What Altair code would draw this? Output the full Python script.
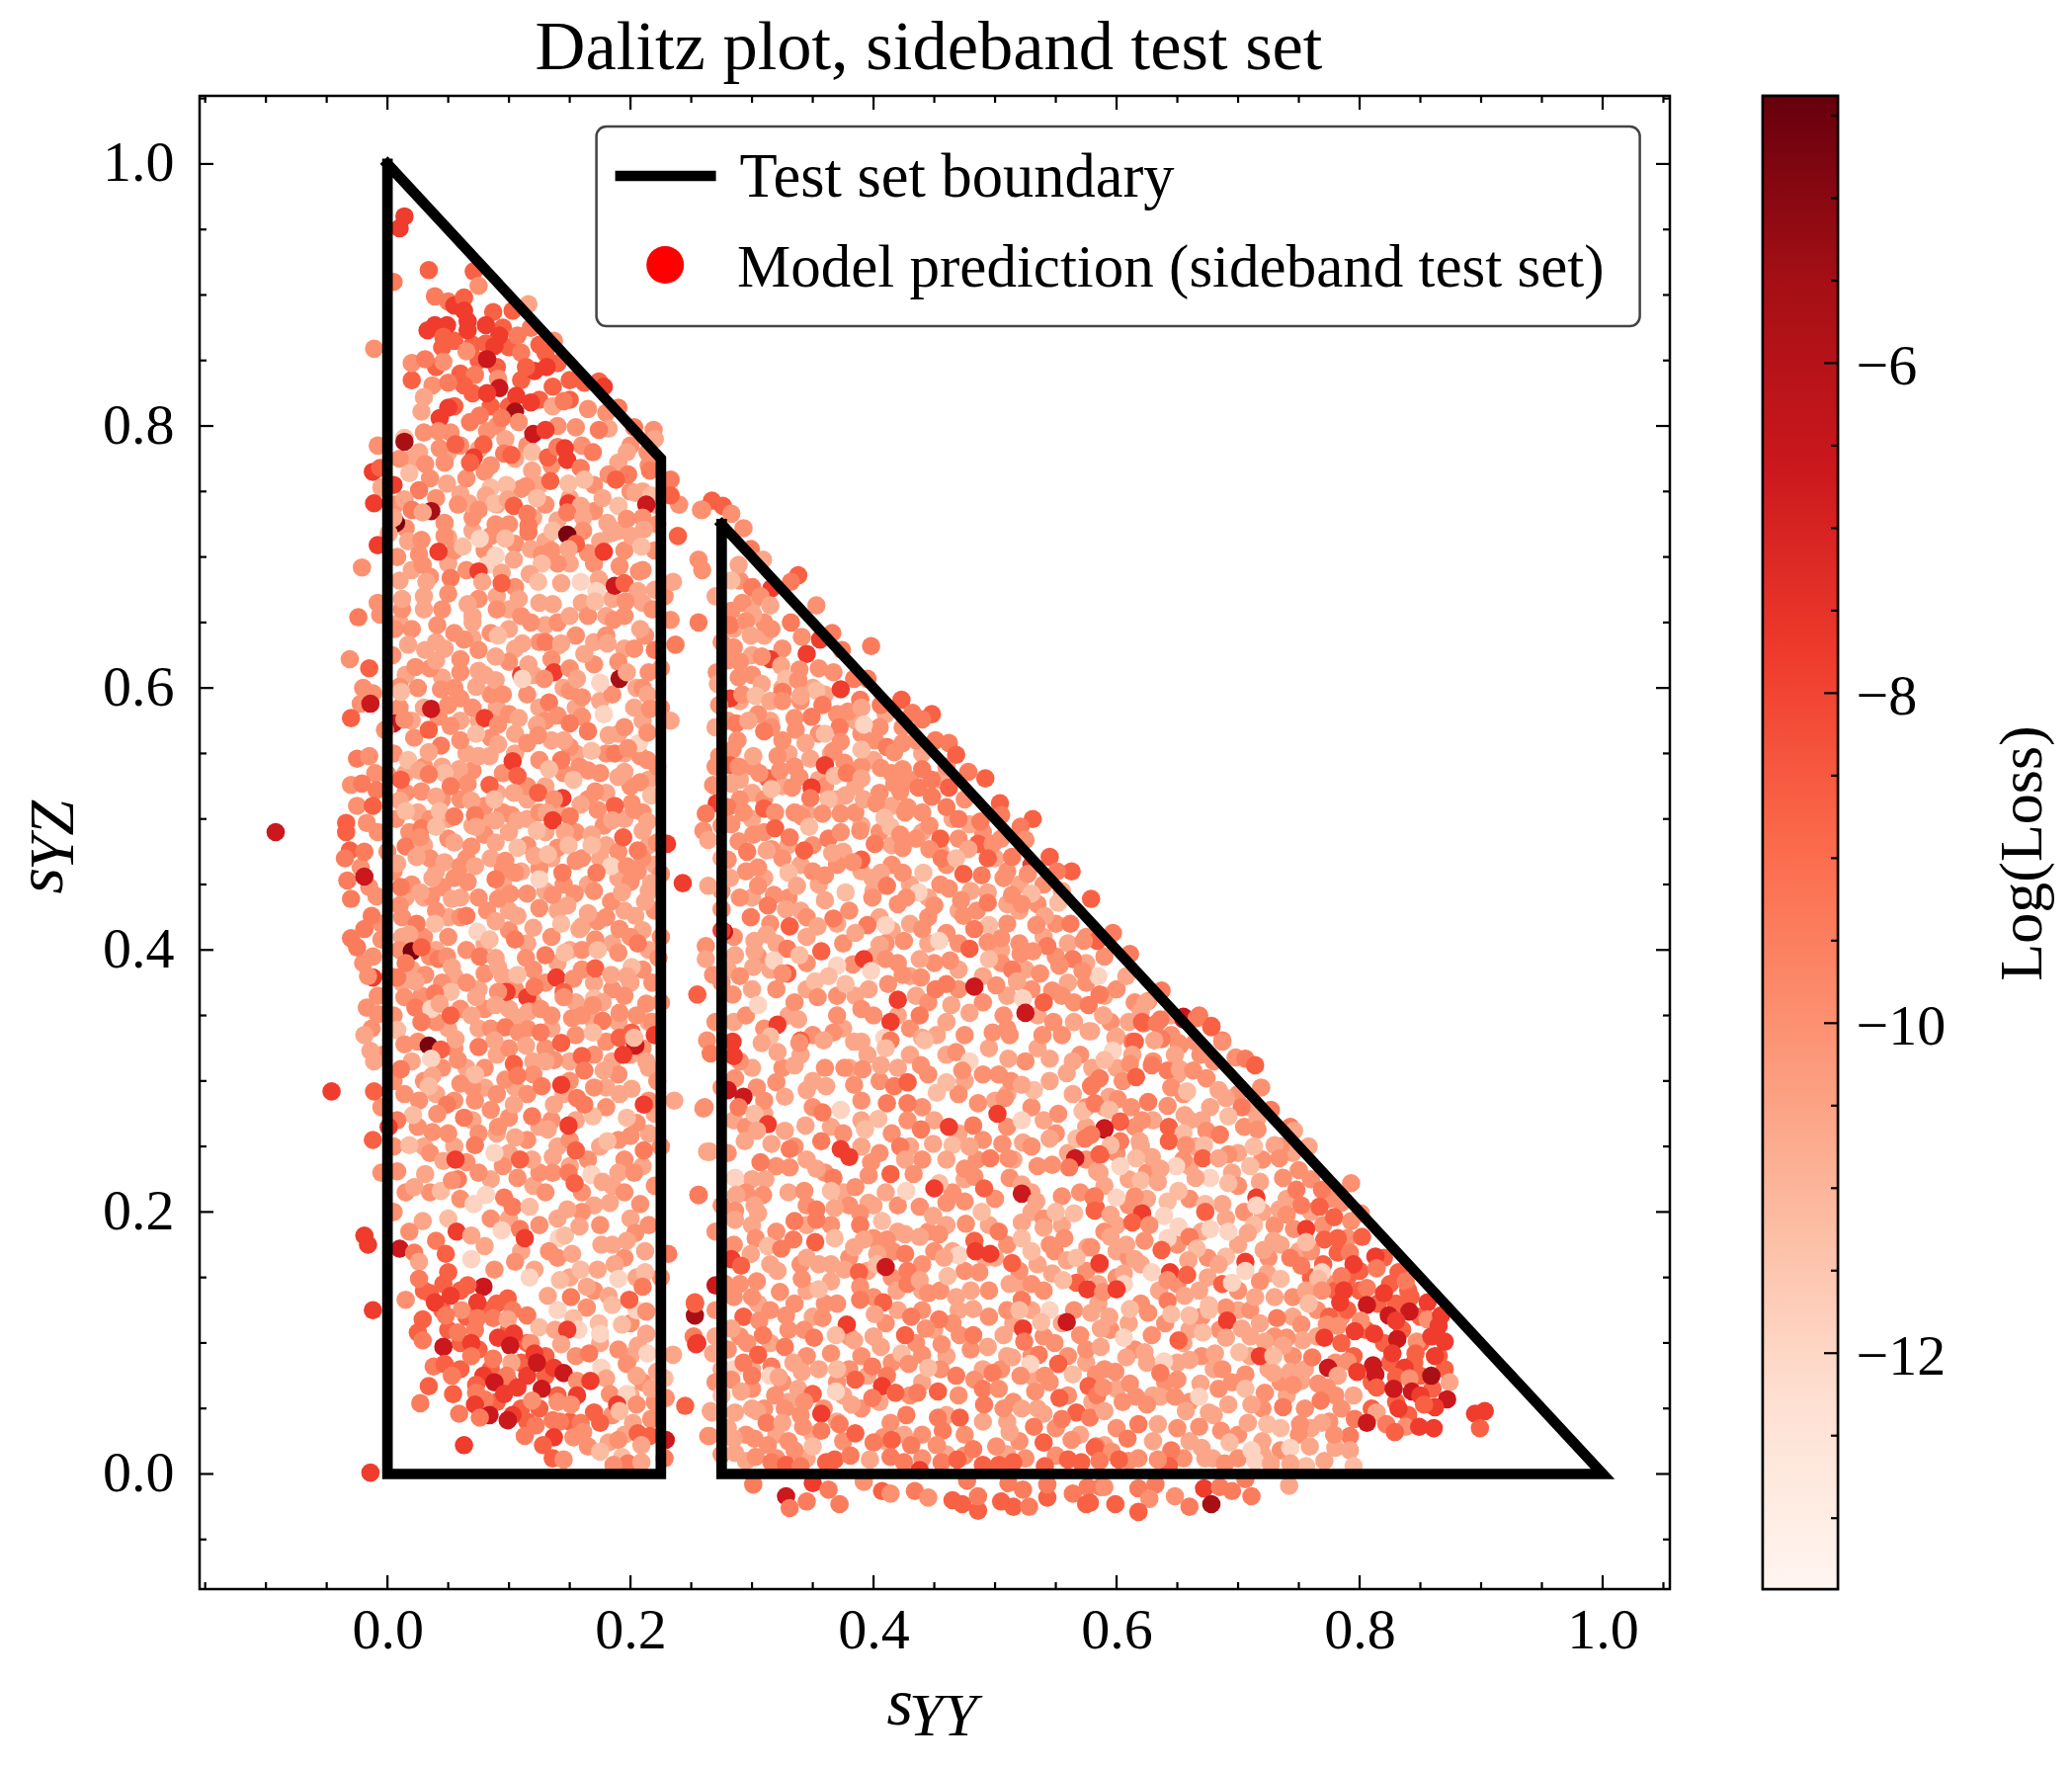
import pandas as pd
import altair as alt

W, H = 1488, 1511
CW = 76
SERIF = "Liberation Serif"

x_major = [0.0, 0.2, 0.4, 0.6, 0.8, 1.0]
x_minor = [-0.15, -0.10, -0.05, 0.05, 0.10, 0.15, 0.25, 0.30, 0.35, 0.45, 0.50, 0.55, 0.65, 0.70, 0.75, 0.85, 0.90, 0.95, 1.05]
y_major = [0.0, 0.2, 0.4, 0.6, 0.8, 1.0]
y_minor = [-0.05, 0.05, 0.10, 0.15, 0.25, 0.30, 0.35, 0.45, 0.50, 0.55, 0.65, 0.70, 0.75, 0.85, 0.90, 0.95, 1.05]
cbar_major = [-12, -10, -8, -6]
cbar_minor = [-13, -12.5, -11.5, -11, -10.5, -9.5, -9, -8.5, -7.5, -7, -6.5, -5.5, -5, -4.5]
cbar_domain = [-13.43, -4.38]
reds = ["#fff5f0", "#fee0d2", "#fcbba1", "#fc9272", "#fb6a4a", "#ef3b2c", "#cb181d", "#a50f15", "#67000d"]

boundary_left_x = [0.0, 0.0, 0.225, 0.225, 0.0]
boundary_left_y = [1.0, 0.0, 0.0, 0.775, 1.0]
boundary_right_x = [0.275, 0.275, 1.0, 0.275]
boundary_right_y = [0.725, 0.0, 0.0, 0.725]

# log loss bands, the third value of each point below is an index into this
loss_levels = [0, -11.9, -11.2, -10.6, -10.0, -9.4, -8.7, -7.8, -6.6, -5.6, -4.7]

# points under the others, estimated from the dense mass of the picture: (s_YY, s_YZ)
under_hot = [
(.055,.865),(.075,.85),(.1,.86),(.125,.862),(.09,.845),(.11,.835),(.14,.848),(.15,.835),(.1,.815),(.125,.82),(.07,.825),(.04,.845),(.055,.815),(.085,.815),(.02,.835),(.045,.86),(.07,.862),(.095,.875),(.15,.82),
(.05,.11),(.06,.1),(.075,.095),(.085,.08),(.06,.08),(.1,.07),(.11,.085),(.13,.075),(.09,.055),(.11,.05),(.125,.05),(.06,.14),(.08,.125),(.09,.13),(.03,.14),(.045,.125),(.065,.12),(.14,.06),(.15,.04),(.115,.04),(.1,.11),(.115,.1),(.13,.09),
(.8,.14),(.815,.13),(.825,.145),(.84,.14),(.85,.12),(.79,.125),(.805,.11),(.82,.1),(.835,.11),(.85,.1),(.845,.085),(.825,.085),(.81,.07),(.83,.055),(.85,.075),(.86,.065),(.795,.09),(.78,.14),(.775,.12),(.785,.1),(.8,.155),(.82,.165),(.83,.13),(.865,.09),(.87,.08),(.81,.05),(.84,.045),(.79,.15),(.77,.16),(.76,.15),
]
under_mid = [
(.03,.795),(.06,.785),(.09,.8),(.115,.785),(.14,.8),(.16,.785),(.18,.81),(.2,.785),(.215,.77),(.01,.775),(.035,.76),(.065,.76),(.08,.765),(.11,.752),(.135,.77),(.17,.755),(.2,.75),(.006,.74),(.04,.745),(.07,.73),(.1,.725),(.13,.74),(.17,.735),(.222,.725),(.24,.74),
(.015,.722),(.055,.705),(.08,.705),(.105,.71),(.135,.705),(.165,.703),(.195,.705),(.22,.705),(.008,.7),(.035,.685),(.065,.69),(.105,.677),(.14,.695),(.17,.695),(.21,.69),(.012,.66),(.045,.66),(.075,.668),(.11,.655),(.14,.65),(.165,.655),(.195,.655),(.228,.67),(-.008,.665),
(.02,.645),(.055,.642),(.085,.642),(.125,.635),(.155,.64),(.18,.64),(.212,.64),(.004,.625),(.035,.615),(.06,.622),(.1,.62),(.135,.622),(.17,.618),(.19,.62),(.215,.612),(.025,.6),(.055,.6),(.085,.595),(.115,.595),(.15,.598),(.185,.595),(.21,.6),(-.02,.6),(.01,.585),(.042,.578),(.07,.585),(.1,.58),(.13,.575),(.16,.578),(.195,.57),(.225,.585),
(.022,.562),(.06,.56),(.085,.562),(.115,.558),(.15,.555),(.18,.55),(.208,.548),(.005,.55),(.03,.54),(.07,.537),(.095,.535),(.125,.545),(.175,.535),(.222,.54),(-.01,.535),(.015,.52),(.045,.515),(.08,.51),(.115,.525),(.145,.535),(.165,.515),(.2,.525),(.007,.5),(.035,.5),(.06,.515),(.095,.505),(.125,.505),(.155,.49),(.178,.495),(.21,.505),(-.025,.51),
(.018,.49),(.05,.485),(.08,.488),(.115,.48),(.14,.478),(.19,.475),(.222,.482),(-.008,.49),(.035,.47),(.065,.47),(.095,.462),(.125,.462),(.16,.47),(.21,.47),(-.022,.463),(.005,.46),(.02,.45),(.045,.448),(.075,.44),(.115,.443),(.145,.45),(.17,.445),(.2,.452),(.225,.458),(-.015,.448),(.012,.425),(.04,.43),(.06,.425),(.082,.43),(.125,.432),(.18,.425),(.22,.43),
(-.005,.42),(.03,.41),(.05,.41),(.1,.415),(.135,.41),(.16,.4),(.2,.41),(.225,.41),(-.02,.39),(.01,.4),(.035,.395),(.065,.4),(.08,.382),(.12,.385),(.16,.385),(.19,.398),(.218,.375),(.002,.38),(.045,.375),(.065,.375),(.105,.37),(.13,.375),(.185,.37),(.21,.385),(-.008,.365),(.028,.365),(.06,.355),(.08,.355),(.135,.35),(.16,.35),(.205,.35),(.225,.36),
(.005,.35),(.04,.345),(.085,.34),(.115,.34),(.155,.335),(.18,.33),(.218,.345),(-.013,.34),(.025,.33),(.055,.325),(.1,.325),(.13,.325),(.17,.32),(.21,.325),(-.004,.32),(.045,.31),(.08,.31),(.12,.305),(.15,.3),(.19,.305),(.222,.3),(.005,.3),(.03,.3),(.07,.295),(.09,.29),(.115,.29),(.17,.295),(.215,.285),(-.005,.28),(.055,.285),(.1,.272),(.135,.27),(.18,.28),(.205,.268),
(.025,.265),(.05,.26),(.075,.26),(.115,.255),(.15,.255),(.19,.255),(.225,.25),(.005,.25),(.035,.245),(.065,.238),(.095,.235),(.125,.23),(.165,.24),(.195,.24),(.015,.215),(.035,.215),(.06,.21),(.13,.215),(.16,.215),(.195,.215),(.22,.22),(.005,.2),(.085,.195),(.125,.19),(.16,.2),(.215,.19),(.14,.165),(.175,.19),(.195,.165),(.225,.15),(.17,.14),(.2,.115),(.19,.095),(.155,.09),(.21,.07),(.185,.045),(.22,.055),
(.29,.682),(.31,.65),(.275,.635),(.325,.63),(.355,.615),(.29,.62),(.34,.59),(.3,.61),(.28,.575),(.37,.58),(.405,.57),(.305,.58),(.325,.56),(.355,.565),(.39,.565),(.435,.56),(.3,.54),(.335,.54),(.39,.54),(.415,.535),(.46,.54),(.27,.54),(.31,.515),(.36,.525),(.405,.52),(.43,.53),(.475,.515),(.29,.515),(.335,.505),(.385,.505),(.44,.505),(.49,.49),(.505,.485),
(.275,.495),(.31,.49),(.35,.48),(.405,.49),(.435,.485),(.47,.485),(.295,.46),(.325,.47),(.37,.465),(.415,.465),(.46,.465),(.51,.46),(.54,.45),(.275,.445),(.33,.44),(.38,.43),(.42,.435),(.455,.45),(.485,.43),(.535,.435),(.29,.44),(.345,.425),(.41,.405),(.445,.425),(.51,.42),(.55,.42),(.575,.41),(.315,.42),(.285,.41),(.375,.405),(.47,.405),(.52,.405),(.55,.395),(.59,.395),
(.305,.395),(.345,.39),(.42,.39),(.45,.39),(.505,.39),(.575,.375),(.6,.37),(.275,.375),(.32,.37),(.37,.365),(.4,.35),(.47,.37),(.53,.37),(.565,.36),(.615,.36),(.295,.35),(.335,.36),(.39,.355),(.445,.36),(.49,.36),(.51,.34),(.595,.345),(.645,.335),(.27,.345),(.31,.34),(.35,.335),(.43,.34),(.475,.335),(.555,.335),(.63,.315),(.665,.33),
(.29,.315),(.325,.31),(.36,.31),(.405,.3),(.445,.305),(.49,.305),(.525,.315),(.57,.32),(.605,.3),(.655,.29),(.68,.315),(.275,.295),(.31,.285),(.35,.28),(.39,.285),(.44,.28),(.47,.29),(.53,.28),(.575,.28),(.615,.265),(.7,.29),(.295,.265),(.335,.25),(.375,.26),(.415,.26),(.49,.255),(.51,.265),(.55,.26),(.6,.245),(.655,.24),(.705,.265),(.735,.25),
(.28,.245),(.32,.235),(.36,.23),(.405,.245),(.44,.24),(.485,.24),(.535,.235),(.575,.24),(.625,.23),(.72,.24),(.76,.225),(.295,.215),(.345,.205),(.38,.205),(.42,.205),(.465,.215),(.5,.21),(.54,.195),(.57,.215),(.61,.205),(.66,.21),(.705,.2),(.775,.21),(.275,.205),(.32,.185),(.365,.19),(.4,.18),(.445,.185),(.51,.175),(.545,.175),(.59,.185),(.65,.175),(.73,.19),(.77,.19),(.79,.18),
(.285,.175),(.34,.16),(.38,.165),(.44,.16),(.475,.155),(.52,.155),(.575,.155),(.61,.165),(.675,.165),(.725,.165),(.76,.17),(.3,.135),(.335,.13),(.415,.15),(.455,.14),(.495,.14),(.54,.14),(.6,.15),(.65,.145),(.7,.14),(.745,.135),(.775,.145),(.27,.125),(.315,.125),(.36,.13),(.4,.135),(.44,.125),(.51,.125),(.565,.125),(.62,.13),(.67,.12),(.71,.125),(.765,.125),
(.29,.105),(.33,.11),(.38,.105),(.41,.115),(.465,.115),(.54,.105),(.595,.11),(.64,.115),(.685,.11),(.73,.105),(.785,.12),(.28,.095),(.345,.09),(.39,.09),(.435,.1),(.48,.095),(.53,.09),(.56,.09),(.615,.095),(.67,.09),(.745,.09),(.78,.085),(.3,.065),(.325,.07),(.37,.07),(.415,.085),(.455,.08),(.505,.08),(.545,.07),(.59,.08),(.64,.07),(.695,.07),(.735,.07),(.78,.06),
(.27,.07),(.31,.05),(.34,.045),(.39,.05),(.43,.06),(.47,.06),(.515,.055),(.56,.06),(.605,.055),(.66,.055),(.72,.05),(.755,.05),(.785,.05),(.295,.03),(.33,.025),(.375,.025),(.44,.03),(.475,.03),(.52,.025),(.55,.035),(.6,.035),(.65,.035),(.7,.03),(.75,.03),(.775,.04),(.275,.015),(.32,.012),(.44,.012),(.475,.014),(.525,.012),(.55,.014),(.61,.01),(.655,.012),(.7,.012),(.735,.018),
]
under_light = [
(.02,.775),(.05,.78),(.075,.782),(.105,.775),(.125,.755),(.15,.745),(.19,.772),(.21,.75),(.06,.748),(.09,.74),(.12,.73),(.14,.728),(.19,.72),(.22,.74),(.05,.715),(.07,.72),(.13,.712),(.15,.695),(.175,.712),(.02,.69),(.05,.695),(.09,.67),(.125,.665),(.16,.665),(.185,.668),(.22,.675),(.03,.67),(.07,.655),(.1,.66),(.13,.648),(.18,.655),(.21,.665),
(.01,.65),(.04,.635),(.07,.638),(.105,.63),(.14,.632),(.17,.635),(.195,.63),(.015,.61),(.045,.608),(.08,.61),(.12,.61),(.145,.6),(.175,.59),(.205,.6),(.03,.585),(.06,.575),(.09,.585),(.125,.585),(.155,.585),(.21,.575),(.02,.575),(.075,.575),(.105,.565),(.135,.56),(.19,.565),(.045,.54),(.065,.55),(.105,.55),(.13,.525),(.155,.55),(.195,.55),(.015,.535),
(.06,.53),(.09,.52),(.115,.515),(.18,.52),(.215,.53),(.025,.505),(.05,.5),(.08,.5),(.115,.5),(.14,.505),(.195,.5),(.03,.48),(.07,.495),(.1,.49),(.13,.49),(.18,.48),(.215,.48),(.04,.46),(.085,.47),(.11,.46),(.135,.47),(.175,.47),(.22,.465),(.03,.44),(.06,.44),(.095,.45),(.13,.445),(.165,.45),(.19,.455),(.215,.445),
(.015,.44),(.05,.425),(.1,.43),(.14,.43),(.16,.418),(.195,.43),(.21,.415),(.012,.41),(.04,.4),(.08,.405),(.115,.405),(.15,.4),(.185,.405),(.215,.4),(.02,.385),(.055,.38),(.095,.38),(.14,.39),(.17,.375),(.2,.375),(.012,.375),(.03,.355),(.075,.37),(.12,.36),(.155,.36),(.19,.345),(.215,.345),(.05,.34),(.075,.34),(.1,.355),(.135,.34),(.17,.345),(.2,.32),
(.02,.315),(.065,.31),(.09,.32),(.12,.315),(.15,.315),(.185,.315),(.215,.31),(.04,.29),(.08,.295),(.105,.295),(.145,.29),(.18,.295),(.22,.275),(.07,.27),(.09,.26),(.125,.265),(.155,.27),(.215,.26),(.03,.25),(.055,.25),(.1,.245),(.14,.25),(.175,.25),(.21,.235),(.085,.225),(.12,.22),(.15,.235),(.185,.22),(.1,.195),(.14,.195),(.17,.205),(.2,.195),(.11,.17),(.15,.15),(.205,.15),(.185,.175),(.2,.09),(.175,.1),(.195,.03),(.2,.06),
(.3,.665),(.285,.645),(.31,.64),(.3,.625),(.325,.6),(.35,.6),(.29,.59),(.36,.595),(.315,.575),(.385,.575),(.41,.58),(.27,.57),(.33,.55),(.365,.55),(.4,.545),(.44,.55),(.29,.53),(.325,.525),(.355,.53),(.385,.525),(.455,.53),(.27,.525),(.3,.52),(.345,.505),(.37,.515),(.415,.51),(.465,.5),(.3,.5),(.39,.495),(.44,.49),(.5,.47),(.33,.48),(.375,.475),(.415,.48),(.455,.475),
(.275,.47),(.34,.465),(.39,.46),(.43,.45),(.52,.45),(.31,.455),(.355,.45),(.4,.445),(.445,.44),(.48,.445),(.51,.435),(.555,.445),(.3,.44),(.34,.43),(.405,.425),(.43,.42),(.47,.43),(.52,.43),(.56,.405),(.32,.405),(.345,.41),(.37,.42),(.415,.415),(.445,.405),(.505,.4),(.54,.41),(.575,.39),(.28,.385),(.315,.385),(.4,.395),(.43,.38),(.47,.385),(.525,.385),(.56,.375),
(.345,.37),(.385,.365),(.435,.365),(.49,.38),(.51,.365),(.59,.365),(.61,.345),(.3,.37),(.33,.35),(.375,.34),(.42,.35),(.46,.345),(.535,.35),(.565,.345),(.645,.35),(.285,.345),(.34,.32),(.395,.32),(.43,.32),(.46,.32),(.495,.325),(.535,.325),(.58,.31),(.6,.31),(.65,.305),(.3,.31),(.35,.3),(.38,.31),(.42,.31),(.475,.3),(.51,.29),(.545,.3),(.59,.28),(.63,.27),(.67,.27),
(.285,.27),(.31,.275),(.365,.265),(.39,.27),(.45,.27),(.5,.285),(.54,.27),(.575,.265),(.62,.25),(.66,.27),(.71,.28),(.345,.24),(.39,.25),(.43,.25),(.47,.26),(.515,.24),(.56,.245),(.61,.225),(.665,.25),(.7,.245),(.745,.245),(.3,.225),(.33,.215),(.375,.215),(.41,.215),(.475,.225),(.53,.215),(.59,.22),(.66,.235),(.695,.23),(.74,.21),(.3,.19),(.345,.19),(.4,.205),(.46,.19),(.495,.19),
(.53,.2),(.6,.19),(.625,.21),(.69,.195),(.72,.2),(.76,.2),(.315,.16),(.355,.16),(.42,.185),(.465,.17),(.5,.165),(.535,.16),(.555,.19),(.6,.17),(.67,.185),(.7,.175),(.735,.175),(.305,.13),(.345,.14),(.395,.155),(.44,.14),(.48,.14),(.52,.145),(.585,.145),(.62,.16),(.675,.15),(.73,.135),(.75,.17),(.27,.105),(.35,.12),(.42,.125),(.47,.125),(.53,.125),(.585,.13),(.635,.14),(.7,.125),(.745,.12),
(.315,.1),(.4,.105),(.45,.11),(.515,.115),(.555,.115),(.61,.115),(.66,.11),(.71,.105),(.765,.105),(.3,.08),(.355,.08),(.395,.075),(.46,.09),(.51,.09),(.575,.085),(.625,.085),(.655,.1),(.71,.09),(.755,.08),(.275,.08),(.33,.055),(.375,.06),(.44,.07),(.49,.08),(.53,.075),(.6,.065),(.65,.085),(.68,.08),(.725,.08),(.3,.05),(.37,.04),(.405,.055),(.49,.04),(.535,.05),(.58,.055),(.63,.06),(.68,.045),(.74,.06),(.28,.035),(.32,.03),(.35,.03),(.425,.03),(.46,.045),(.51,.04),(.57,.03),(.63,.025),(.66,.025),(.72,.025),(.76,.035),(.295,.01),(.345,.012),(.41,.025),(.46,.015),(.51,.015),(.59,.022),(.67,.02),(.72,.015),(.78,.02),
]

# points: (s_YY, s_YZ, band)
upper_left = [
(.014,.96,7),(.01,.951,7),(.034,.919,6),(.005,.91,5),(.071,.918,6),(.075,.907,4),(.039,.899,5),(.05,.895,5),(.055,.892,7),(.063,.898,6),(.063,.888,7),(.116,.893,3),(.103,.888,6),(.087,.887,6),
(.049,.877,7),(.039,.877,7),(.033,.873,7),(.046,.868,6),(.066,.88,7),(.066,.873,7),(.081,.877,7),(.092,.869,7),(.081,.863,6),(.065,.857,4),(.088,.861,7),(.082,.851,8),(.107,.869,5),(.118,.875,5),(.137,.865,4),(.13,.856,6),(.11,.856,5),(.121,.842,7),(.131,.845,7),(.114,.845,6),
(-.011,.859,4),(.02,.848,4),(.031,.851,5),(.046,.849,4),(.06,.84,6),(.072,.839,5),(.091,.836,4),(.063,.831,6),(.037,.831,4),(.05,.833,5),(.03,.822,3),(.092,.829,8),(.082,.825,7),(.136,.83,6),(.106,.823,7),(.174,.834,6),(.162,.833,6),(.178,.83,7),
(.028,.811,3),(.05,.814,7),(.043,.806,7),(.105,.811,9),(.118,.818,7),(.136,.815,3),(.145,.819,5),(.108,.803,4),(.068,.803,5),(.076,.808,5),(.094,.806,5),(.19,.814,5),(.165,.813,4),(.014,.791,2),(.014,.788,9),(-.008,.785,4),
(.12,.794,8),(.13,.797,7),(.219,.797,4),(.182,.798,3),(.174,.797,5),(.203,.799,5),(.155,.799,4),(.052,.795,4),(.082,.796,4),(.042,.796,4),(.043,.783,4),(.056,.786,6),(.097,.79,3),(.079,.786,6),(.026,.78,3),(.071,.776,7),(.068,.772,6),
(.096,.779,5),(.102,.778,6),(.119,.78,2),(.132,.776,6),(.14,.784,5),(.146,.783,7),(.148,.774,7),(.169,.78,5),(.197,.78,3),(.214,.78,4),(.22,.79,3),(-.012,.765,7),(-.006,.768,6),(.018,.764,2),(.047,.772,4),(.031,.771,4),(.085,.77,4),(.159,.768,5),(.119,.766,3),
(.182,.763,4),(.198,.763,5),(.216,.766,5),(.233,.759,5),(.188,.759,6),(.134,.758,6),(.049,.756,3),(.098,.755,2),(.149,.756,2),(.162,.759,2),(.085,.753,2),(.026,.751,5),(.005,.755,7),(-.005,.753,3),(.114,.754,4),(.233,.747,6),(.204,.749,3),(.217,.747,2),
(-.011,.741,7),(.081,.747,3),(.014,.744,3),(.123,.745,2),(.177,.745,3),(.088,.741,2),(.099,.744,3),(.067,.741,3),(.058,.74,4),(.036,.735,9),(.02,.736,5),(.029,.734,3),(.149,.741,7),(.213,.74,8),(.19,.739,2),(.159,.739,3),(.148,.734,5),(.104,.739,6),(.075,.736,4),(.115,.733,5),
(.007,.726,10),(.005,.73,3),(.001,.718,3),(.047,.726,4),(.089,.725,4),(.161,.73,3),(.197,.729,4),(.21,.73,4),(.181,.726,3),(.116,.724,5),(.085,.716,4),(.097,.714,2),(.136,.72,2),(.161,.72,4),(.184,.718,3),(.201,.716,3),(.239,.716,6),(.211,.721,3),(.116,.719,5),
(.148,.717,10),(.155,.71,6),(-.008,.709,7),(.047,.716,4),(.017,.712,3),(.028,.713,4),(.062,.708,2),(.076,.714,1),(.042,.704,7),(.209,.708,2),(.178,.704,7),(.118,.706,3),(.127,.702,4),(.149,.706,3),(.026,.702,4),(.104,.698,3),(.089,.701,1),(.082,.694,1),(.127,.695,2),(.191,.693,4),
(.207,.689,4),(.029,.694,4),(-.021,.692,4),(.075,.689,7),(.094,.688,3),(.052,.684,5),(.117,.687,3),(.174,.683,3),(.159,.681,1),(.143,.68,3),(.187,.678,8),(.195,.68,6),(.094,.68,6),(.235,.681,3),(.01,.682,3),(.032,.681,3),(.078,.681,3),(.124,.681,2),(.172,.674,1),(.206,.674,3),(.196,.666,4),(.171,.666,2),
(.05,.672,4),(.066,.664,3),(.03,.66,3),(.012,.668,3),(.108,.668,3),(.136,.664,3),(.09,.66,4),(.218,.66,4),(-.024,.654,5),(-.006,.656,4),(.15,.655,3),(.186,.652,4),(.07,.65,3),(.041,.648,4),(.118,.65,4),(.233,.652,4),(.006,.645,4),(.208,.645,3),(.1,.645,3),
]
mid_left = [
(.017,.633,3),(.031,.629,3),(.047,.63,3),(.063,.637,4),(.075,.629,4),(.091,.64,2),(.111,.634,3),(.13,.635,5),(.143,.634,3),(.162,.626,3),(.181,.634,3),(.203,.63,4),(.22,.629,5),(-.031,.622,4),(-.015,.615,6),(.237,.633,5),(.023,.616,4),(.04,.621,3),(.06,.612,4),(.075,.613,3),(.089,.624,3),
(.11,.61,7),(.137,.612,7),(.191,.607,9),(.116,.618,3),(.129,.607,4),(.15,.615,4),(.175,.604,1),(.197,.612,3),(.225,.615,4),(.01,.601,4),(.011,.597,2),(.044,.599,4),(.073,.601,3),(.089,.606,3),(.111,.607,1),(.156,.607,3),(.16,.593,4),(.214,.595,3),(-.012,.596,4),(-.022,.588,4),(-.03,.577,6),(-.014,.588,8),
(.036,.584,8),(.06,.592,4),(.05,.587,4),(.095,.595,4),(.133,.589,5),(.203,.585,3),(.216,.584,4),(.005,.573,8),(.014,.576,4),(.08,.577,7),(.034,.568,6),(.052,.571,4),(.091,.572,4),(.108,.577,3),(.123,.572,3),(.14,.579,4),(.15,.573,5),(.178,.58,1),(.233,.575,3),(-.002,.568,4),(.073,.565,2),(.124,.564,4),(.165,.567,5),(.182,.564,3),
(.145,.56,3),(.207,.558,1),(.214,.566,4),(.044,.556,5),(.091,.557,3),(.168,.552,2),(.187,.55,5),(.198,.554,4),(-.025,.546,5),(-.015,.548,4),(.034,.551,3),(.075,.548,3),(.084,.548,3),(.143,.545,5),(.214,.545,4),(.017,.545,2),(.103,.544,7),(.059,.538,3),(.133,.538,2),(.158,.54,4),(.165,.537,4),
(0,.534,4),(.026,.537,3),(.047,.535,2),(.034,.534,5),(.107,.533,6),(.195,.536,3),(.011,.53,6),(.208,.528,4),(-.03,.526,4),(-.021,.527,5),(.066,.527,4),(.084,.526,6),(.153,.53,2),(.19,.532,3),(.171,.521,4),(.052,.525,5),(.028,.521,4),(.104,.52,3),(.124,.52,6),(.217,.518,2),(-.009,.522,5),(.144,.516,7),
(.01,.514,3),(.04,.517,3),(.069,.514,3),(.088,.515,2),(.137,.515,4),(.159,.511,3),(.201,.512,4),(-.012,.51,6),(.187,.51,6),(.015,.506,2),(.043,.506,2),(.131,.505,3),(.173,.507,4),(.203,.507,4),(.055,.502,5),(.072,.503,5),(.102,.503,4),(.15,.502,5),(-.034,.497,6),(-.017,.497,4),(.185,.499,3),(.214,.498,3),
(.028,.493,5),(.04,.494,2),(.073,.494,3),(.089,.499,3),(.107,.499,3),(.136,.499,7),(.146,.49,3),(.123,.491,2),(-.034,.49,6),(.168,.488,3),(.21,.491,3),(.194,.486,6),(.015,.479,5),(.027,.486,4),(.055,.482,3),(.089,.482,3),(.149,.48,2),(.168,.48,2),(.23,.481,7),(-.031,.476,6),(-.019,.475,5),(.069,.479,4),(.107,.478,2),(.206,.476,5),
(0,.475,4),(-.035,.47,5),(.024,.471,3),(.121,.472,3),(.184,.464,1),(.155,.468,4),(.097,.468,4),(.132,.473,2),(.047,.467,3),(.06,.464,4),(.072,.464,3),(.008,.466,3),(.197,.464,4),(.172,.459,5),(.144,.459,5),(-.033,.453,5),(-.019,.456,8),(.206,.46,4),(.037,.455,3),(.125,.454,1),(.089,.454,5),(.055,.455,4),(.066,.452,4),(.105,.459,4),
(.243,.451,7),(.011,.448,5),(.154,.443,4),(.217,.451,3),(-.009,.441,4),(-.03,.439,5),(.136,.442,4),(.184,.437,4),(.193,.444,3),(.101,.443,4),(.091,.439,4),(.036,.441,4),(.027,.444,3),(.053,.439,3),(.212,.437,3),(.01,.434,4),(.148,.434,3),(.107,.426,3),(.204,.426,3),(.173,.422,4),(.165,.428,3),(.065,.426,5),(-.013,.426,5),
(.089,.422,3),(.039,.42,2),(.024,.42,5),(.143,.42,2),(.191,.416,4),(.158,.416,3),(-.019,.416,5),(.277,.414,8),(-.03,.409,5),(.12,.417,3),(.074,.414,1),(.018,.412,3),(-.005,.408,4),(.105,.408,5),(.171,.408,4),(.206,.405,5),(-.025,.402,5),(.173,.4,2),(.084,.408,2),(.02,.399,10),(.028,.402,6),(.146,.398,2),(.13,.396,5),
(.042,.393,5),(.049,.395,4),(.076,.395,5),(.089,.394,3),(-.012,.395,4),(.114,.394,4),(.201,.387,2),(.015,.39,5),(.171,.386,6),(.053,.387,3),(.107,.381,2),(.184,.381,3),(.091,.387,3),(.223,.394,4),(.197,.38,3),(.031,.381,4),(-.012,.379,7),(-.016,.38,4),(.008,.379,5),(.139,.379,7),(.023,.376,3),(.153,.378,4),
(.098,.368,7),(.115,.364,7),(.145,.368,6),(.121,.372,5),(.091,.368,4),(.073,.364,3),(.195,.365,4),(.052,.368,2),(.17,.363,2),(.039,.367,5),(.014,.364,4),(.145,.364,4),(.177,.36,3),(-.017,.356,4),(.213,.359,4),(.023,.356,5),(.169,.358,4),(.116,.353,3),(.036,.355,1),(.043,.359,3),(.089,.358,3),(.052,.35,6),(.069,.35,3),(.126,.355,4),
(.105,.349,3),(.028,.345,5),(.152,.348,4),(.191,.352,4),(-.008,.351,4),(.177,.346,5),(.126,.337,5),(.008,.339,2),(.097,.341,5),(.108,.337,4),(.22,.335,7),(-.019,.335,3),(.056,.332,3),(.169,.337,2),(.143,.329,6),(.088,.331,3),(.204,.327,8),(.191,.333,6),(.075,.326,5),(.201,.337,6),(.203,.333,2),(.014,.328,4),
(.034,.327,10),(.044,.324,6),(.036,.317,1),(.194,.32,7),(.16,.319,6),(-.014,.323,3),(.114,.327,3),(.137,.316,4),(.058,.316,4),(.178,.308,3),(.011,.309,5),(-.011,.315,3),(.104,.313,6),(.072,.305,2),(.213,.315,3),(.13,.315,3),(.037,.304,3),(.097,.301,4),(.107,.304,5),(.162,.308,5),(.143,.297,7),(-.011,.292,6),
(.127,.296,5),(.201,.294,3),(.014,.29,4),(.034,.296,2),(.06,.298,4),(.156,.287,5),(.191,.29,3),(.236,.285,3),(.026,.285,4),(.049,.282,5),(.137,.282,3),(.211,.282,7),(.072,.285,4),(.104,.282,3),(.26,.279,4),(.119,.273,5),(.085,.278,4),(.169,.273,2),(.021,.274,2),(.041,.275,4),(.008,.27,5),(.197,.272,2),(.162,.282,5),(.063,.272,5),
(.132,.263,3),(.091,.265,4),(.149,.266,7),(.001,.265,7),(.037,.261,4),(.2,.258,4),(.181,.254,2),(.105,.257,3),(-.012,.255,6),(.072,.251,5),(.018,.251,2),(.155,.247,6),(.119,.24,3),(.088,.245,1),(.211,.247,5),(.136,.242,3),(.046,.239,3),(.056,.24,7),(.109,.24,6),(.265,.246,3),(.008,.231,4),(.168,.229,1),(.075,.23,4),(.058,.225,5),(.136,.23,4),(.19,.23,3),(.203,.23,4),(.031,.229,3),(.107,.226,4),(-.005,.23,4),(.149,.23,5),
]
lower_left = [
(.022,.219,3),(.044,.216,2),(.053,.224,4),(.081,.213,1),(.096,.211,5),(.071,.206,1),(.103,.204,5),(.117,.204,2),(.154,.222,6),(.168,.228,1),(.177,.223,3),(.208,.206,4),(.183,.207,3),(.148,.202,3),(.029,.193,3),(.05,.195,2),(.057,.185,7),(.069,.182,3),(.094,.186,1),(.109,.187,5),
(.141,.18,1),(.146,.182,2),(.158,.189,3),(.176,.175,3),(.204,.184,4),(.018,.185,4),(.04,.178,5),(.08,.174,3),(.113,.18,7),(.212,.17,3),(-.019,.182,7),(-.016,.175,7),(.01,.172,8),(.048,.168,6),(.022,.169,5),(.069,.164,1),(.105,.162,4),(.133,.17,4),(.152,.168,3),(.197,.178,3),(.026,.162,3),(.088,.156,4),
(.121,.156,3),(.159,.156,2),(.173,.156,3),(.187,.16,3),(.212,.154,2),(.231,.168,5),(.05,.154,6),(.117,.15,1),(.19,.149,1),(.21,.143,5),(.026,.149,5),(.142,.148,2),(.164,.143,3),(.079,.143,8),(.066,.144,6),(.046,.145,6),(.035,.138,6),(.099,.134,6),(.132,.136,3),(.151,.135,5),(.182,.136,3),(.015,.133,4),(.052,.136,7),
(.074,.131,7),(.039,.131,7),(.185,.129,2),(.205,.125,1),(.213,.124,4),(.061,.125,4),(.199,.133,6),(.103,.125,5),(.14,.125,1),(.164,.127,4),(-.012,.125,7),(.048,.121,5),(.029,.118,6),(.074,.119,5),(.087,.119,5),(.099,.118,3),(.153,.119,2),(.115,.121,5),(.174,.115,2),(.193,.114,2),(.125,.112,2),(.157,.11,1),(.138,.11,3),
(.148,.11,7),(.072,.11,5),(.175,.107,1),(.213,.107,3),(.058,.108,5),(.025,.108,6),(.091,.104,7),(.104,.107,7),(.029,.102,5),(.206,.098,3),(.118,.1,4),(.069,.1,7),(.101,.098,8),(.046,.097,8),(.143,.099,3),(.166,.092,5),(.121,.092,7),(.214,.092,1),(.069,.09,5),(.087,.088,5),(.102,.085,3),(.235,.091,3),(.197,.084,4),(.176,.081,1),
(.038,.082,5),(.047,.084,6),(.137,.081,7),(.145,.077,8),(.115,.075,7),(.123,.085,8),(.079,.075,7),(.18,.073,3),(.205,.075,3),(.053,.075,5),(.156,.071,4),(.098,.075,5),(.228,.073,2),(.222,.078,3),(.127,.065,8),(.088,.07,8),(.073,.068,6),(.167,.071,7),(.034,.067,6),(.054,.061,6),(.073,.062,5),(.183,.061,4),(.197,.061,1),(.217,.065,3),
(.096,.061,7),(.107,.066,7),(.156,.06,7),(.119,.056,4),(.08,.057,5),(.14,.055,4),(.151,.053,4),(.189,.053,7),(.205,.053,4),(.229,.058,4),(.245,.052,6),(.027,.054,5),(.072,.053,7),(.17,.047,6),(.191,.048,2),(.103,.045,7),(.084,.045,8),(.059,.046,5),(.076,.043,5),(.099,.041,8),(.217,.042,4),(.136,.041,5),(.159,.039,5),(.202,.039,3),
(.122,.037,5),(.142,.04,5),(.161,.032,4),(.175,.039,6),(.113,.029,5),(.206,.031,6),(.216,.029,6),(.229,.026,8),(.137,.028,7),(.063,.022,7),(.153,.028,4),(.182,.024,3),(.19,.026,4),(.128,.022,6),(.165,.021,4),(.209,.022,3),(.175,.017,2),(.193,.013,2),(.228,.012,5),(.136,.012,6),(.145,.011,4),(.198,.008,5),(.209,.009,3),(.186,.007,4),(-.014,.001,7),
(-.092,.49,8),(-.046,.292,7),(.253,.131,6),(.253,.121,9),(.252,.105,5),(.254,.099,7),(.256,.213,5),(.263,.246,3),(.268,.092,3),(.267,.047,3),(.264,.029,4),(.261,.28,4),(.266,.048,3),(.253,.13,6),
]
upper_right = [
(.258,.736,4),(.276,.739,6),(.267,.743,6),(.259,.736,4),(.293,.722,4),(.283,.733,4),(.299,.706,5),(.256,.698,4),(.259,.69,4),(.309,.698,3),(.289,.694,3),(.283,.682,2),(.3,.677,5),(.316,.676,7),(.338,.686,6),(.332,.681,5),(.27,.67,3),(.307,.67,4),(.292,.665,4),(.353,.663,4),(.315,.663,3),(.256,.65,5),(.283,.659,4),(.301,.656,3),(.282,.648,5),(.295,.651,4),(.332,.65,5),(.316,.645,4),
(.299,.64,3),(.366,.642,5),(.341,.639,4),(.356,.637,7),(.398,.632,5),(.285,.631,4),(.345,.626,7),(.374,.629,5),(.315,.622,7),(.308,.624,4),(.339,.614,4),(.324,.617,3),(.367,.612,4),(.28,.621,4),(.271,.612,4),(.289,.608,4),(.384,.607,5),(.328,.607,2),(.395,.607,5),(.338,.606,4),(.373,.599,7),(.308,.603,3),(.272,.603,3),(.282,.592,7),(.292,.595,4),(.303,.594,2),(.325,.597,5),(.353,.598,2),
(.423,.591,6),(.389,.591,5),(.34,.594,3),(.315,.59,3),(.325,.59,4),(.358,.587,5),(.379,.582,4),(.39,.585,3),(.406,.587,5),(.432,.581,5),(.448,.58,6),(.273,.587,4),(.349,.578,5),(.335,.577,4),(.287,.573,5),(.297,.575,3),(.392,.572,1),(.44,.576,5),(.316,.57,4),(.31,.567,5),(.336,.568,4),(.372,.57,5),(.36,.565,2),(.424,.57,4),(.288,.56,4),(.344,.558,3),(.451,.56,5),(.401,.56,4),(.373,.559,4),(.462,.558,5),(.411,.555,5),(.424,.558,4),
(.284,.553,4),(.39,.553,2),(.367,.552,4),(.417,.551,4),(.273,.548,4),(.301,.548,3),(.321,.548,4),(.348,.546,3),(.468,.549,6),(.282,.541,6),(.36,.541,7),(.376,.543,4),(.406,.539,4),(.424,.538,4),(.44,.538,5),(.478,.536,5),(.313,.531,6),(.368,.533,2),(.378,.535,5),(.339,.532,4),(.492,.531,6),(.289,.54,4),(.39,.531,3),(.306,.535,4),(.323,.537,4),(.417,.527,4),(.448,.53,5),(.283,.527,3),(.349,.524,7),(.268,.526,4),(.437,.524,5),(.462,.524,6),
(.316,.523,2),(.333,.524,4),(.377,.518,3),(.422,.521,4),(.363,.515,2),(.348,.516,5),(.392,.515,3),(.448,.517,5),(.271,.512,7),(.28,.509,5),(.293,.505,4),(.31,.508,6),(.504,.512,6),(.46,.509,5),(.402,.512,4),(.428,.509,4),(.319,.505,4),(.341,.502,4),(.358,.504,4),(.262,.504,5),(.373,.504,4),(.531,.5,6),(.505,.503,5),(.521,.494,5),(.409,.501,2),(.426,.505,4),(.479,.496,3),(.488,.498,5),(.47,.5,5),(.446,.495,4),
(.319,.493,6),(.347,.494,2),(.283,.496,4),(.301,.488,4),(.389,.491,4),(.26,.491,4),(.414,.494,2),(.363,.485,5),(.331,.486,5),(.373,.49,4),(.455,.485,6),(.422,.488,4),(.525,.484,4),(.486,.481,6),(.289,.483,4),(.264,.484,3),(.316,.477,4),(.401,.481,5),(.424,.478,4),(.498,.481,4),(.343,.476,6),(.366,.474,3),(.446,.477,4),(.478,.477,3),(.296,.475,5),(.494,.47,6),(.312,.476,3),(.514,.471,5),(.545,.471,6),(.28,.469,4),(.39,.469,6),(.383,.467,4),(.456,.47,5),(.468,.47,2),
(.53,.465,7),(.305,.463,4),(.33,.459,2),(.35,.46,4),(.563,.46,6),(.551,.46,5),(.406,.459,3),(.424,.459,4),(.441,.459,2),(.474,.458,6),(.489,.457,5),(.527,.458,4),(.507,.455,4),(.36,.457,4),(.399,.455,3),(.282,.455,3),(.264,.449,3),(.305,.449,4),(.411,.449,5),(.462,.447,4),(.337,.449,3),(.377,.444,2),(.437,.444,1),(.494,.444,3),(.579,.439,6),(.53,.443,2),(.427,.44,4),(.36,.438,3),(.318,.442,4),(.552,.436,2),(.514,.442,4),(.472,.438,4),(.494,.436,5),(.399,.44,4),(.45,.434,4),(.522,.435,4),
(.275,.431,4),(.313,.434,5),(.328,.431,3),(.299,.425,5),(.367,.424,5),(.395,.419,5),(.41,.419,1),(.44,.416,4),(.474,.426,4),(.495,.419,2),(.541,.426,3),(.275,.415,7),(.331,.418,6),(.354,.418,3),(.562,.42,5),(.483,.416,5),(.597,.413,5),(.385,.413,3),(.46,.413,4),(.425,.407,4),(.505,.409,4),(.312,.412,3),(.534,.419,4),(.454,.407,1),(.405,.404,3),(.494,.406,4),(.584,.407,6),(.573,.407,4),(.262,.403,4),(.302,.407,3),(.543,.403,5),(.479,.401,6),(.611,.397,5),(.329,.401,5),(.357,.399,6),
(.521,.397,4),(.564,.393,5),(.531,.399,4),(.262,.393,3),(.302,.399,3),(.339,.396,2),(.286,.396,3),(.438,.393,3),(.495,.393,2),(.383,.389,4),(.463,.392,4),(.318,.392,1),(.392,.393,7),(.41,.393,4),(.329,.382,6),(.553,.388,4),(.301,.387,3),(.514,.385,5),(.398,.384,1),(.585,.38,1),(.325,.382,4),(.424,.381,4),(.537,.382,4),(.268,.381,4),(.37,.388,1),(.572,.384,4),(.608,.38,3),(.29,.38,4),(.439,.379,4),(.363,.38,2),(.352,.376,2),(.46,.374,5),(.483,.372,8),(.451,.37,5),(.377,.374,2),(.518,.376,3),
(.255,.366,6),(.396,.37,3),(.412,.374,4),(.501,.373,4),(.547,.369,4),(.637,.369,5),(.555,.365,4),(.284,.366,4),(.305,.358,1),(.523,.363,1),(.626,.361,4),(.54,.36,6),(.62,.353,3),(.42,.362,7),(.577,.358,5),(.354,.364,4),(.438,.35,5),(.589,.35,2),(.655,.347,8),(.525,.352,8),(.668,.35,5),(.507,.35,4),(.622,.344,5),(.414,.345,7),(.636,.347,5),(.678,.342,6),(.321,.343,7),(.479,.352,3),(.338,.347,3),(.548,.345,4),(.464,.358,3),(.37,.35,4),
(.498,.337,4),(.512,.335,4),(.577,.338,3),(.539,.335,4),(.6,.334,3),(.613,.33,5),(.651,.329,4),(.687,.331,5),(.44,.333,3),(.409,.333,1),(.315,.334,2),(.34,.331,6),(.284,.33,7),(.263,.331,4),(.452,.335,3),(.39,.33,3),(.367,.337,4),(.414,.331,5),
]
lower_mid = [
(.285,.319,7),(.339,.329,4),(.321,.322,3),(.308,.329,3),(.359,.331,3),(.384,.33,3),(.41,.325,2),(.442,.331,2),(.468,.322,4),(.479,.315,1),(.511,.317,3),(.545,.317,3),(.564,.315,3),(.335,.312,3),(.376,.31,4),(.391,.309,4),(.406,.312,3),(.439,.312,4),(.266,.321,5),(.286,.302,4),(.304,.295,4),(.32,.299,4),(.345,.293,3),(.384,.297,4),(.417,.296,5),(.428,.299,6),(.46,.299,2),(.452,.291,2),(.503,.305,4),(.513,.3,4),(.532,.293,2),(.559,.306,3),(.58,.297,5),(.473,.308,4),
(.28,.293,8),(.293,.288,8),(.289,.28,5),(.302,.275,2),(.327,.288,3),(.361,.296,3),(.373,.278,1),(.411,.283,5),(.428,.283,5),(.486,.283,4),(.508,.287,4),(.522,.297,3),(.564,.29,3),(.313,.267,7),(.304,.262,3),(.327,.262,3),(.358,.276,5),(.344,.266,3),(.393,.263,2),(.404,.271,2),(.428,.27,4),(.439,.263,5),(.462,.265,7),(.482,.266,5),(.502,.275,7),(.522,.27,1),(.572,.277,2),(.552,.275,4),(.59,.263,9),
(.265,.246,3),(.294,.254,3),(.316,.252,3),(.331,.248,5),(.357,.254,5),(.373,.248,7),(.38,.242,7),(.398,.238,4),(.422,.25,5),(.449,.252,3),(.465,.251,2),(.479,.25,3),(.506,.252,4),(.523,.253,3),(.545,.256,3),(.567,.256,2),(.574,.256,5),(.566,.241,8),(.561,.234,5),(.587,.244,6),(.286,.226,1),(.307,.238,5),(.331,.234,4),(.353,.233,3),(.426,.24,3),(.414,.229,6),(.46,.24,3),(.475,.233,4),(.496,.241,5),(.511,.241,4),(.547,.236,4),(.53,.25,4),
(.311,.225,3),(.367,.226,5),(.396,.228,4),(.433,.229,4),(.483,.227,4),(.512,.226,4),(.584,.231,3),(.256,.213,5),(.287,.213,3),(.309,.213,4),(.343,.216,4),(.365,.216,2),(.385,.219,4),(.427,.216,1),(.454,.222,2),(.45,.218,7),(.491,.218,6),(.522,.221,3),(.522,.214,8),(.555,.212,4),(.581,.211,5),(.55,.2,2),(.286,.201,4),(.302,.205,3),(.353,.202,5),(.368,.203,3),(.396,.207,3),(.438,.204,4),(.46,.207,4),(.475,.208,4),(.489,.2,2),(.534,.208,3),(.565,.199,2),(.583,.203,6),
(.27,.185,4),(.305,.199,3),(.335,.193,5),(.353,.194,5),(.389,.199,4),(.407,.193,2),(.449,.197,3),(.476,.191,4),(.522,.192,3),(.54,.188,3),(.503,.185,5),(.286,.194,3),(.389,.19,5),(.303,.18,4),(.334,.179,5),(.368,.18,2),(.352,.177,6),(.392,.179,3),(.426,.183,3),(.454,.183,4),(.438,.181,3),(.411,.179,4),(.557,.18,4),(.576,.173,3),(.483,.178,6),(.522,.18,2),
(.299,.168,3),(.283,.164,7),(.291,.159,6),(.313,.174,2),(.324,.172,5),(.345,.165,3),(.384,.173,3),(.416,.17,4),(.426,.168,5),(.403,.168,3),(.45,.17,4),(.47,.167,1),(.492,.165,3),(.496,.168,7),(.484,.17,7),(.514,.161,6),(.53,.17,2),(.549,.17,4),(.559,.163,3),(.567,.165,2),(.586,.16,5),(.365,.16,3),(.376,.156,3),(.403,.16,2),(.41,.158,8),(.388,.154,6),(.428,.155,5),(.458,.165,3),
(.304,.147,4),(.321,.155,3),(.278,.145,4),(.27,.144,8),(.341,.149,4),(.461,.151,2),(.487,.154,4),(.512,.145,3),(.547,.153,3),(.567,.146,6),(.576,.141,7),(.556,.148,2),(.53,.145,4),(.365,.147,3),(.355,.141,2),(.389,.143,4),(.419,.14,3),(.428,.145,5),(.438,.148,3),(.468,.135,3),(.29,.145,4),(.285,.135,4),(.323,.139,4),(.37,.13,4),(.389,.133,5),(.408,.131,6),(.401,.122,3),(.445,.138,4),(.522,.133,5),(.52,.125,2),(.545,.125,1),(.559,.116,8),(.538,.116,2),(.579,.123,3),
(.293,.12,6),(.328,.121,4),(.358,.119,4),(.378,.114,7),(.431,.12,5),(.454,.118,5),(.482,.126,3),(.495,.12,4),(.523,.111,7),(.343,.11,4),(.306,.117,4),(.283,.111,3),(.309,.106,5),(.296,.1,4),(.369,.106,2),(.384,.102,3),(.351,.104,5),(.426,.106,6),(.443,.111,4),(.456,.099,4),(.471,.106,4),(.482,.106,5),(.507,.106,3),(.524,.101,5),(.549,.1,4),(.57,.106,4),(.255,.1,7),
(.305,.091,6),(.285,.08,1),(.327,.097,5),(.365,.092,4),(.406,.097,3),(.423,.092,2),(.44,.091,4),(.494,.097,3),(.514,.089,3),(.536,.091,5),(.575,.095,4),(.587,.097,3),(.293,.085,5),(.334,.085,3),(.316,.082,5),(.399,.082,5),(.429,.084,4),(.445,.081,2),(.498,.077,5),(.552,.084,6),(.529,.084,1),(.315,.075,1),(.322,.074,3),(.341,.078,3),(.3,.075,5),(.38,.08,4),(.411,.075,5),(.468,.075,5),(.483,.072,4),(.521,.075,4),(.541,.075,4),(.564,.076,2),(.583,.076,4),(.283,.072,4),(.385,.072,6),(.37,.08,2),
(.275,.06,2),(.291,.063,3),(.319,.06,4),(.338,.065,3),(.35,.061,6),(.369,.063,1),(.407,.067,7),(.418,.062,6),(.399,.058,5),(.436,.062,5),(.453,.063,6),(.49,.065,5),(.503,.065,4),(.533,.063,4),(.577,.067,6),(.553,.058,6),(.584,.06,5),(.286,.047,3),(.304,.048,3),(.359,.05,4),(.327,.05,4),(.343,.055,4),(.382,.053,3),(.427,.045,5),(.453,.043,5),(.471,.043,6),(.491,.053,5),(.507,.05,4),(.522,.05,3),(.54,.046,3),(.567,.047,6),(.578,.043,5),
(.312,.039,5),(.325,.039,3),(.357,.046,7),(.372,.038,5),(.414,.039,4),(.555,.042,5),(.265,.029,4),(.285,.027,3),(.342,.036,4),(.357,.033,5),(.385,.031,6),(.408,.028,4),(.457,.033,5),(.512,.032,3),(.532,.036,5),(.302,.027,4),(.415,.026,6),(.4,.024,5),(.431,.022,5),(.482,.019,5),(.54,.024,6),(.563,.026,4),(.583,.021,5),(.452,.022,4),(.501,.021,4),(.313,.022,4),(.35,.021,2),(.335,.018,4),
(.286,.016,3),(.303,.013,4),(.368,.011,6),(.381,.014,5),(.397,.011,3),(.414,.013,5),(.361,.009,6),(.456,.009,5),(.469,.011,6),(.49,.007,6),(.503,.007,6),(.515,.009,6),(.541,.006,6),(.56,.011,6),(.571,.009,6),(.316,.009,5),(.328,.007,6),(.425,.009,5),(.438,.003,7),(.34,.006,5),
(.301,-.008,5),(.328,-.017,8),(.35,-.007,7),(.345,-.021,5),(.331,-.026,5),(.363,-.012,5),(.372,-.023,5),(.392,-.006,4),(.407,-.013,6),(.414,-.015,4),(.434,-.013,5),(.445,-.018,4),(.465,-.02,6),(.473,-.023,6),(.486,-.028,6),(.486,-.017,5),(.477,-.005,5),(.505,-.021,6),(.515,-.025,6),(.528,-.025,5),(.523,-.012,5),(.543,-.018,6),(.564,-.015,5),(.575,-.023,6),(.576,-.01,5),(.543,-.008,5),(.511,-.007,5),(.587,-.01,5),
]
lower_right = [
(.586,.366,5),(.624,.36,3),(.655,.349,8),(.666,.348,5),(.678,.341,6),(.621,.345,6),(.633,.344,5),(.589,.35,3),(.637,.332,5),(.687,.33,4),(.615,.33,6),(.599,.333,3),(.631,.331,3),(.579,.338,3),(.652,.327,4),(.597,.323,1),(.613,.32,3),(.648,.32,3),(.698,.318,4),(.706,.317,5),(.714,.312,6),(.59,.316,2),(.629,.312,5),(.669,.32,4),(.611,.313,4),(.642,.308,5),(.652,.309,3),(.663,.308,4),(.616,.303,6),(.586,.302,5),(.674,.302,4),
(.719,.295,4),(.579,.296,5),(.645,.295,4),(.684,.293,3),(.594,.288,3),(.626,.284,5),(.658,.292,2),(.69,.287,3),(.601,.286,4),(.582,.283,5),(.727,.278,5),(.612,.28,4),(.642,.281,4),(.677,.28,3),(.594,.278,2),(.703,.28,5),(.656,.274,3),(.692,.273,2),(.716,.272,3),(.621,.27,4),(.743,.265,5),(.603,.269,6),(.59,.264,8),(.643,.265,6),(.674,.262,4),(.685,.259,5),(.716,.263,4),(.746,.262,3),
(.619,.254,3),(.655,.26,2),(.643,.254,6),(.579,.259,5),(.603,.254,5),(.595,.251,2),(.758,.25,3),(.73,.251,3),(.713,.25,2),(.672,.251,2),(.692,.244,4),(.657,.251,4),(.586,.244,6),(.629,.242,3),(.671,.241,6),(.684,.241,3),(.734,.241,4),(.616,.241,2),(.649,.235,1),(.71,.235,2),(.75,.232,4),(.603,.235,1),(.636,.233,3),(.586,.23,3),(.677,.226,1),(.665,.226,3),(.718,.223,3),(.793,.222,4),(.7,.22,4),(.737,.226,4),(.62,.224,2),(.692,.222,2),(.769,.217,5),
(.582,.212,5),(.634,.223,3),(.748,.217,5),(.651,.216,2),(.6,.211,1),(.615,.212,4),(.687,.206,3),(.673,.206,2),(.642,.208,2),(.715,.211,7),(.715,.205,1),(.801,.199,4),(.785,.207,4),(.767,.204,6),(.752,.205,5),(.734,.202,3),(.582,.201,6),(.621,.199,7),(.613,.192,6),(.673,.2,6),(.74,.198,4),(.779,.196,6),(.595,.198,3),(.639,.197,1),(.627,.19,4),(.651,.189,1),(.677,.187,1),(.692,.185,1),(.713,.19,2),(.746,.187,4),(.756,.187,7),(.793,.193,4),
(.579,.173,4),(.595,.181,3),(.623,.178,4),(.66,.181,5),(.642,.18,1),(.708,.184,3),(.771,.179,6),(.782,.18,6),(.802,.181,6),(.729,.178,3),(.756,.177,2),(.608,.175,3),(.666,.172,2),(.637,.171,6),(.782,.169,6),(.792,.169,5),(.721,.171,3),(.743,.165,5),(.813,.166,7),(.795,.16,7),(.586,.161,7),(.69,.166,2),(.615,.164,3),(.659,.163,3),(.706,.162,7),(.684,.16,3),(.752,.159,5),(.814,.157,5),
(.769,.154,1),(.706,.155,1),(.644,.154,7),(.629,.154,1),(.606,.153,3),(.658,.152,6),(.724,.153,3),(.832,.154,6),(.785,.151,5),(.766,.149,2),(.735,.149,2),(.642,.148,4),(.606,.145,1),(.838,.147,5),(.687,.145,6),(.695,.146,1),(.589,.139,4),(.6,.141,7),(.668,.14,3),(.718,.147,4),(.806,.142,5),(.82,.138,7),(.787,.14,7),(.756,.14,3),(.656,.136,3),(.769,.14,4),(.842,.135,6),
(.642,.132,5),(.758,.13,2),(.784,.131,7),(.714,.135,3),(.856,.131,7),(.69,.127,4),(.676,.129,2),(.611,.126,2),(.626,.123,4),(.645,.122,2),(.806,.129,8),(.824,.121,8),(.841,.124,8),(.83,.117,7),(.856,.118,4),(.801,.117,4),(.594,.12,3),(.66,.121,2),(.867,.121,7),(.691,.117,7),(.718,.115,3),(.732,.119,5),(.752,.114,4),(.773,.114,4),(.676,.125,2),(.782,.113,4),
(.587,.111,3),(.629,.106,4),(.671,.108,2),(.796,.109,7),(.812,.107,7),(.865,.113,7),(.703,.111,3),(.651,.102,6),(.606,.104,1),(.69,.104,3),(.753,.102,3),(.771,.104,7),(.831,.103,8),(.847,.101,4),(.87,.101,7),(.722,.101,3),(.74,.104,4),(.859,.105,7),(.623,.093,3),(.701,.093,2),(.681,.092,3),(.737,.098,3),(.718,.09,7),(.729,.09,2),(.827,.092,7),(.862,.09,7),(.846,.092,6),
(.608,.089,3),(.761,.089,5),(.66,.087,3),(.811,.083,8),(.79,.086,4),(.774,.081,8),(.837,.081,7),(.639,.086,1),(.599,.078,4),(.636,.077,5),(.687,.08,4),(.859,.075,9),(.798,.078,7),(.874,.07,3),(.743,.078,3),(.729,.077,3),(.782,.075,3),(.813,.076,8),(.706,.076,4),(.83,.074,6),(.841,.073,4),(.611,.069,4),(.65,.072,4),(.669,.069,3),(.752,.071,3),(.766,.069,4),
(.706,.065,2),(.684,.065,4),(.814,.066,6),(.843,.063,8),(.828,.065,8),(.616,.059,4),(.636,.059,3),(.722,.062,4),(.773,.066,4),(.745,.068,4),(.85,.06,7),(.872,.057,8),(.668,.059,1),(.795,.06,3),(.589,.066,4),(.648,.059,4),(.768,.056,5),(.903,.048,7),(.895,.046,7),(.899,.035,6),(.692,.053,3),(.711,.053,3),(.737,.051,5),(.832,.05,7),(.862,.051,7),(.853,.053,6),
(.59,.048,3),(.657,.048,3),(.676,.047,3),(.625,.053,4),(.796,.042,5),(.814,.047,3),(.769,.039,3),(.806,.039,8),(.822,.038,5),(.838,.036,4),(.849,.036,7),(.861,.035,7),(.829,.032,6),(.751,.038,4),(.634,.038,3),(.618,.038,5),(.708,.039,3),(.724,.038,2),(.609,.027,5),(.668,.036,4),(.686,.033,4),(.735,.035,2),(.693,.024,2),(.582,.02,6),(.743,.02,1),(.711,.018,1),(.759,.021,3),(.792,.029,5),(.779,.03,4),(.792,.018,3),(.645,.018,5),
(.618,.012,4),(.596,.017,4),(.673,.012,3),(.679,.012,3),(.771,.01,3),(.795,.006,2),(.602,.011,6),(.756,.006,2),(.714,.01,1),(.727,.008,3),(.643,.006,6),(.634,.011,4),(.586,.01,5),(.689,.008,4),(.743,.008,3),
(.59,-.01,4),(.618,-.011,5),(.632,-.008,5),(.627,-.019,4),(.599,-.023,6),(.618,-.029,6),(.648,-.017,4),(.66,-.025,5),(.672,-.011,7),(.678,-.023,9),(.695,-.013,5),(.711,-.017,5),(.742,-.009,3),(.685,-.01,5),(.706,-.004,5),(.578,-.022,6),
]

under = [(x, y, 3) for x, y in under_light] + [(x, y, 4) for x, y in under_mid] + [(x, y, 6) for x, y in under_hot]
rows = under + upper_left + mid_left + lower_left + upper_right + lower_mid + lower_right
df_pts = pd.DataFrame(rows, columns=["x", "y", "band"])
df_pts["loss"] = df_pts["band"].map(lambda b: loss_levels[b])

df_bound = pd.concat([
    pd.DataFrame({"x": boundary_left_x, "y": boundary_left_y, "seg": "left", "o": range(len(boundary_left_x))}),
    pd.DataFrame({"x": boundary_right_x, "y": boundary_right_y, "seg": "right", "o": range(len(boundary_right_x))}),
])

x_scale = alt.Scale(domain=[-0.1546, 1.0553], nice=False, zero=False)
y_scale = alt.Scale(domain=[-0.0879, 1.052], nice=False, zero=False)

x_enc = alt.X("x:Q", scale=x_scale, axis=alt.Axis(
    values=x_major, format=".1f", grid=False, domain=False, ticks=False, labelPadding=13,
    title="s", titleFontStyle="italic", titleFontWeight="normal", titleFontSize=68, titleFont=SERIF,
    titleX=695, titleY=136, titleAlign="left", titleBaseline="alphabetic",
))
y_enc = alt.Y("y:Q", scale=y_scale, axis=alt.Axis(
    values=y_major, format=".1f", grid=False, domain=False, ticks=False, labelPadding=26,
    title="s", titleFontStyle="italic", titleFontWeight="normal", titleFontSize=68, titleFont=SERIF,
    titleX=-140, titleY=807, titleAngle=270, titleAlign="left", titleBaseline="alphabetic",
))

pts = alt.Chart(df_pts).mark_circle(size=346, opacity=1).encode(
    x=x_enc, y=y_enc,
    color=alt.Color("loss:Q", legend=None, scale=alt.Scale(domain=cbar_domain, range=reds, interpolate="rgb")),
)
bound = alt.Chart(df_bound).mark_line(color="black", strokeWidth=10.7, strokeJoin="miter", strokeCap="square").encode(
    x=alt.X("x:Q", scale=x_scale), y=alt.Y("y:Q", scale=y_scale), detail="seg:N", order="o:Q",
)


def x_ticks(values, length):
    d = alt.Chart(pd.DataFrame({"x": values})).mark_rule(color="black", strokeWidth=2.2)
    xe = alt.X("x:Q", scale=x_scale)
    return d.encode(x=xe, y=alt.value(H), y2=alt.value(H - length)) + d.encode(x=xe, y=alt.value(0), y2=alt.value(length))


def y_ticks(values, length):
    d = alt.Chart(pd.DataFrame({"y": values})).mark_rule(color="black", strokeWidth=2.2)
    ye = alt.Y("y:Q", scale=y_scale)
    return d.encode(y=ye, x=alt.value(0), x2=alt.value(length)) + d.encode(y=ye, x=alt.value(W), x2=alt.value(W - length))


anchor = alt.Chart(pd.DataFrame({"a": [0]}))
legend_box = anchor.mark_rect(fill="white", stroke="#444444", strokeWidth=2.5, cornerRadius=10).encode(
    x=alt.value(401.6), x2=alt.value(1457.6), y=alt.value(31), y2=alt.value(233))
legend_line = anchor.mark_rule(color="black", strokeWidth=10.7).encode(
    x=alt.value(420.6), x2=alt.value(522.6), y=alt.value(81))
legend_dot = anchor.mark_circle(size=1444, color="#ff0000", opacity=1).encode(x=alt.value(471.2), y=alt.value(171))
text_style = dict(font=SERIF, align="left", baseline="alphabetic", color="black")
legend_t1 = anchor.mark_text(text="Test set boundary", fontSize=62.5, **text_style).encode(x=alt.value(546.6), y=alt.value(102))
legend_t2 = anchor.mark_text(text="Model prediction (sideband test set)", fontSize=61, **text_style).encode(x=alt.value(544), y=alt.value(193))
sub_x = anchor.mark_text(text="YY", fontSize=62, fontStyle="italic", **text_style).encode(x=alt.value(718), y=alt.value(H + 148))
sub_y = anchor.mark_text(text="YZ", fontSize=64, fontStyle="italic", angle=270, **text_style).encode(x=alt.value(-128), y=alt.value(784))

main = alt.layer(
    pts, bound,
    x_ticks(x_major, 14), x_ticks(x_minor, 7), y_ticks(y_major, 14), y_ticks(y_minor, 7),
    legend_box, legend_line, legend_dot, legend_t1, legend_t2, sub_x, sub_y,
).properties(
    width=W, height=H,
    title=alt.TitleParams("Dalitz plot, sideband test set", font=SERIF, fontSize=70.5, fontWeight="normal", anchor="middle", offset=11.3, dx=-6, color="black"),
)

cbar_scale = alt.Scale(domain=cbar_domain, nice=False, zero=False)
ramp = alt.Gradient(
    gradient="linear", x1=0, x2=0, y1=1, y2=0,
    stops=[alt.GradientStop(offset=i / (len(reds) - 1), color=c) for i, c in enumerate(reds)],
)
cbar_rect = alt.Chart(pd.DataFrame({"lo": [cbar_domain[0]], "hi": [cbar_domain[1]]})).mark_rect(color=ramp, stroke="black", strokeWidth=2.5).encode(
    x=alt.value(0), x2=alt.value(CW),
    y=alt.Y("lo:Q", scale=cbar_scale, axis=alt.Axis(
        orient="right", values=cbar_major, format="d", grid=False, domain=False, ticks=False, labelPadding=18, labelOffset=4,
        title="Log(Loss)", titleFont=SERIF, titleFontSize=62, titleFontWeight="normal", titleAngle=270,
        titleX=205, titleY=766, titleAlign="center", titleBaseline="alphabetic",
    )),
    y2="hi:Q",
)


def c_ticks(values, length):
    return alt.Chart(pd.DataFrame({"v": values})).mark_rule(color="black", strokeWidth=2.2).encode(
        y=alt.Y("v:Q", scale=cbar_scale), x=alt.value(CW), x2=alt.value(CW - length))


cbar = alt.layer(cbar_rect, c_ticks(cbar_major, 14), c_ticks(cbar_minor, 7)).properties(width=CW, height=H)

chart = alt.hconcat(main, cbar, spacing=88).resolve_scale(color="independent", y="independent", x="independent").properties(
    padding={"left": -2, "top": 4, "right": 5, "bottom": 5}, background="white",
).configure_view(stroke="black", strokeWidth=2.5).configure_axis(
    labelFont=SERIF, labelFontSize=58, labelColor="black", titleColor="black", labelOverlap=False, labelFlush=False,
)

chart.save("out.html", embed_options={"renderer": "svg", "actions": False})
